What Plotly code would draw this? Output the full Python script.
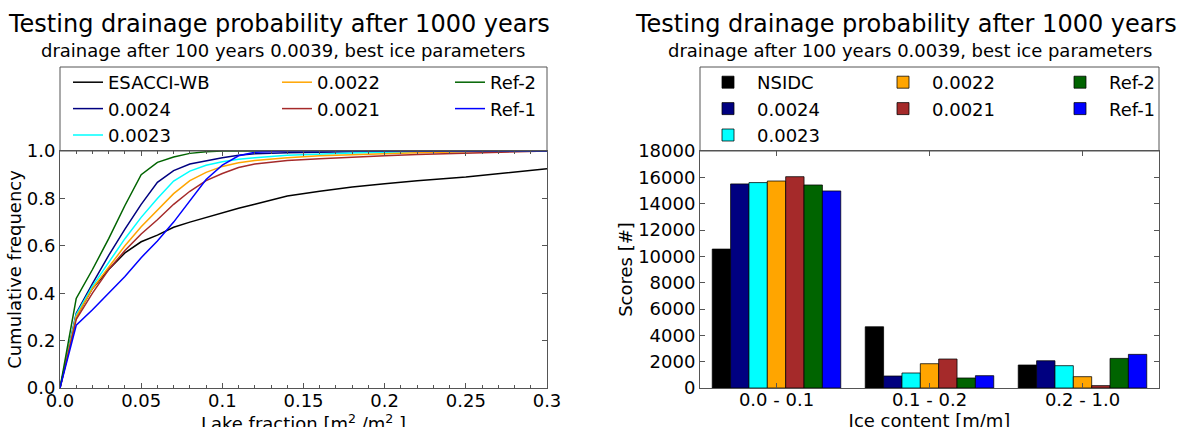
import plotly.graph_objects as go

# ---------------- data ----------------
lake_x = [0, 0.01, 0.02, 0.03, 0.04, 0.05, 0.06, 0.07, 0.08, 0.09, 0.1, 0.11, 0.12,
          0.14, 0.16, 0.18, 0.2, 0.22, 0.25, 0.28, 0.3]
cum_esacci = [0, .30, .42, .50, .57, .617, .645, .678, .70, .72, .74, .758, .775,
              .81, .83, .848, .862, .875, .89, .91, .925]
cum_0024 = [0, .315, .44, .56, .67, .775, .868, .917, .945, .96, .972, .982, .988,
            .993, .996, .998, .999, 1, 1, 1, 1]
cum_0023 = [0, .31, .43, .53, .63, .72, .80, .873, .915, .94, .955, .965, .972,
            .982, .988, .992, .995, .997, .999, 1, 1]
cum_0022 = [0, .30, .42, .51, .60, .68, .75, .82, .875, .91, .935, .95, .96,
            .972, .98, .985, .99, .993, .997, .999, 1]
cum_0021 = [0, .29, .40, .50, .58, .65, .71, .775, .83, .875, .905, .93, .945,
            .96, .967, .975, .98, .985, .99, .995, 1]
cum_ref2 = [0, .378, .50, .63, .77, .90, .952, .975, .99, .997, 1, 1, 1,
            1, 1, 1, 1, 1, 1, 1, 1]
cum_ref1 = [0, .265, .33, .40, .47, .55, .62, .70, .79, .88, .94, .98, .995,
            1, 1, 1, 1, 1, 1, 1, 1]

ice_classes = ["0.0 - 0.1", "0.1 - 0.2", "0.2 - 1.0"]
score_nsidc = [10550, 4650, 1745]
score_0024 = [15500, 910, 2070]
score_0023 = [15600, 1140, 1695]
score_0022 = [15720, 1845, 860]
score_0021 = [16050, 2200, 180]
score_ref2 = [15420, 760, 2250]
score_ref1 = [14965, 935, 2555]

lake_x_ticks = [0, 0.05, 0.1, 0.15, 0.2, 0.25, 0.3]
lake_x_ticklabels = ["0.0", "0.05", "0.1", "0.15", "0.2", "0.25", "0.3"]
cum_y_ticks = [0, 0.2, 0.4, 0.6, 0.8, 1.0]
cum_y_ticklabels = ["0.0", "0.2", "0.4", "0.6", "0.8", "1.0"]
score_ticks = list(range(0, 18001, 2000))

title_text = "Testing drainage probability after 1000 years"
subtitle_text = "drainage after 100 years 0.0039, best ice parameters"

# ---------------- layout constants ----------------
W, H = 1178, 440                         # figure a little taller than the 427px window
L, R, T, B = 60, 1159, 151, 388          # plotting area in pixels
FONT = "DejaVu Sans"
AX = "#555555"
FS = 18


def px_x(v):
    return (v - L) / (R - L)


def px_y(v):
    return (B - v) / (B - T)


fig = go.Figure()

line_series = [
    ("ESACCI-WB", cum_esacci, "black", "legend"),
    ("0.0024", cum_0024, "#000080", "legend"),
    ("0.0023", cum_0023, "cyan", "legend"),
    ("0.0022", cum_0022, "orange", "legend2"),
    ("0.0021", cum_0021, "#a52a2a", "legend2"),
    ("Ref-2", cum_ref2, "#006400", "legend3"),
    ("Ref-1", cum_ref1, "blue", "legend3"),
]
for name, vals, col, lg in line_series:
    fig.add_trace(go.Scatter(
        x=lake_x, y=vals, mode="lines", name=name,
        line=dict(color=col, width=1.5),
        xaxis="x", yaxis="y", legend=lg, legendgroup=name,
    ))

bar_series = [
    ("NSIDC", score_nsidc, "black", "legend4"),
    ("0.0024", score_0024, "#000080", "legend4"),
    ("0.0023", score_0023, "cyan", "legend4"),
    ("0.0022", score_0022, "orange", "legend5"),
    ("0.0021", score_0021, "#a52a2a", "legend5"),
    ("Ref-2", score_ref2, "#006400", "legend6"),
    ("Ref-1", score_ref1, "blue", "legend6"),
]
for name, vals, col, lg in bar_series:
    fig.add_trace(go.Bar(
        x=ice_classes, y=vals, name=name,
        marker=dict(color=col, line=dict(color="rgba(0,0,0,0.75)", width=1)),
        xaxis="x2", yaxis="y2", legend=lg, legendgroup="b" + name,
    ))

axis_common = dict(
    showline=True, linecolor=AX, linewidth=1, mirror="ticks",
    ticks="inside", tickcolor=AX, ticklen=5, showgrid=False, zeroline=False,
    automargin=True,
    tickfont=dict(family=FONT, size=FS, color="black"),
)
title_font = dict(family=FONT, size=FS, color="black")

legend_common = dict(
    font=dict(family=FONT, size=FS, color="black"),
    bgcolor="rgba(0,0,0,0)", borderwidth=0,
    xanchor="left", yanchor="top", orientation="v",
    tracegroupgap=0,
)
leg_top = px_y(64)

fig.update_layout(
    width=W, height=H,
    margin=dict(l=L, r=W - R, t=T, b=H - B, autoexpand=False),
    paper_bgcolor="white", plot_bgcolor="white",
    font=dict(family=FONT, size=FS, color="black"),
    barmode="group", bargap=0.16, bargroupgap=0,
    xaxis=dict(
        domain=[0, px_x(547)], range=[0, 0.3],
        tickvals=lake_x_ticks, ticktext=lake_x_ticklabels,
        minor=dict(dtick=0.01, ticks="inside", ticklen=3, tickcolor=AX),
        ticklabelstandoff=-4,
        title=dict(text="Lake fraction [m<sup>2</sup> /m<sup>2</sup> ]",
                   font=title_font, standoff=2),
        anchor="y", **axis_common,
    ),
    yaxis=dict(
        domain=[0, 1], range=[0, 1],
        tickvals=cum_y_ticks, ticktext=cum_y_ticklabels,
        title=dict(text="Cumulative frequency", font=title_font, standoff=0),
        anchor="x", **axis_common,
    ),
    xaxis2=dict(
        domain=[px_x(700), 1], range=[-0.5, 2.5],
        ticklabelstandoff=-5,
        title=dict(text="Ice content [m/m]", font=title_font, standoff=2),
        anchor="y2", **axis_common,
    ),
    yaxis2=dict(
        domain=[0, 1], range=[0, 18000],
        tickvals=score_ticks, tickformat="d",
        title=dict(text="Scores [#]", font=title_font, standoff=0),
        anchor="x2", **axis_common,
    ),
    legend=dict(x=px_x(68), y=leg_top, itemwidth=30, **legend_common),
    legend2=dict(x=px_x(277), y=leg_top, itemwidth=30, **legend_common),
    legend3=dict(x=px_x(450), y=leg_top, itemwidth=30, **legend_common),
    legend4=dict(x=px_x(699), y=leg_top, itemwidth=48, **legend_common),
    legend5=dict(x=px_x(874), y=leg_top, itemwidth=48, **legend_common),
    legend6=dict(x=px_x(1051), y=leg_top, itemwidth=48, **legend_common),
    shapes=[
        dict(type="rect", xref="paper", yref="paper",
             x0=px_x(60), x1=px_x(547), y0=px_y(151), y1=px_y(67),
             line=dict(color=AX, width=1), fillcolor="rgba(0,0,0,0)"),
        dict(type="rect", xref="paper", yref="paper",
             x0=px_x(700), x1=px_x(1159), y0=px_y(151), y1=px_y(67),
             line=dict(color=AX, width=1), fillcolor="rgba(0,0,0,0)"),
    ],
    annotations=[
        dict(text=title_text, x=px_x(279), y=px_y(24), xref="paper", yref="paper",
             showarrow=False, xanchor="center", yanchor="middle",
             font=dict(family=FONT, size=24, color="black")),
        dict(text=subtitle_text, x=px_x(283), y=px_y(50), xref="paper", yref="paper",
             showarrow=False, xanchor="center", yanchor="middle",
             font=dict(family=FONT, size=FS, color="black")),
        dict(text=title_text, x=px_x(906), y=px_y(24), xref="paper", yref="paper",
             showarrow=False, xanchor="center", yanchor="middle",
             font=dict(family=FONT, size=24, color="black")),
        dict(text=subtitle_text, x=px_x(910), y=px_y(50), xref="paper", yref="paper",
             showarrow=False, xanchor="center", yanchor="middle",
             font=dict(family=FONT, size=FS, color="black")),
    ],
)

fig.write_html(
    "out.html",
    config={"displayModeBar": False},
    post_script="document.body.style.margin='0';document.body.style.overflow='hidden';",
)
